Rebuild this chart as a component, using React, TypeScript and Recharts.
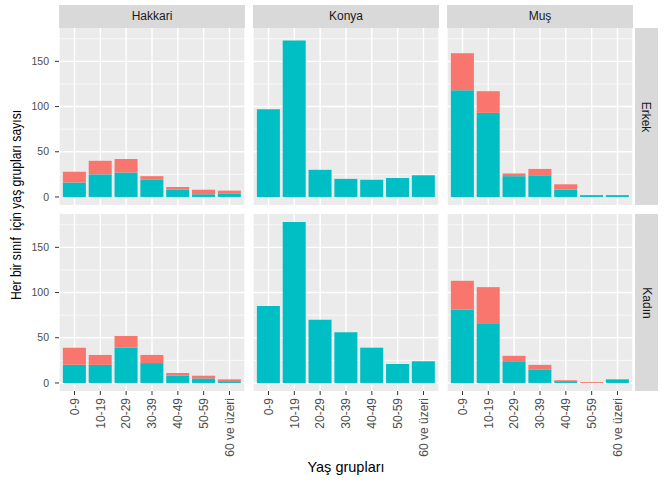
import React from 'react';
import { BarChart, Bar, XAxis, YAxis, CartesianGrid } from 'recharts';

const ageGroups = ['0-9', '10-19', '20-29', '30-39', '40-49', '50-59', '60 ve üzeri'];
const provinces = ['Hakkari', 'Konya', 'Muş'];
const sexes = ['Erkek', 'Kadın'];
const yTicks = [0, 50, 100, 150];
const yMinor = [25, 75, 125, 175];

// teal = lower part of each bar, red = part stacked on top
const hakkariErkekTeal = [16, 25, 27, 19, 8, 3, 4];
const hakkariErkekRed = [12, 15, 15, 4, 3, 5, 3];
const konyaErkekTeal = [97, 173, 30, 20, 19, 21, 24];
const konyaErkekRed = [0, 0, 0, 0, 0, 0, 0];
const musErkekTeal = [118, 93, 23, 24, 8, 2, 2];
const musErkekRed = [41, 24, 3, 7, 6, 0, 0];

const hakkariKadinTeal = [20, 20, 39, 22, 8, 5, 2];
const hakkariKadinRed = [19, 11, 13, 9, 3, 3, 2];
const konyaKadinTeal = [85, 178, 70, 56, 39, 21, 24];
const konyaKadinRed = [0, 0, 0, 0, 0, 0, 0];
const musKadinTeal = [81, 66, 24, 15, 2, 0, 4];
const musKadinRed = [32, 40, 6, 5, 1, 1, 0];

const TEAL = '#00BFC4';
const RED = '#F8766D';
const FONT = '"Liberation Sans", Arial, sans-serif';

const facets = [
  [
    [hakkariErkekTeal, hakkariErkekRed],
    [konyaErkekTeal, konyaErkekRed],
    [musErkekTeal, musErkekRed],
  ],
  [
    [hakkariKadinTeal, hakkariKadinRed],
    [konyaKadinTeal, konyaKadinRed],
    [musKadinTeal, musKadinRed],
  ],
];

const toRows = (teal: number[], red: number[]) =>
  ageGroups.map((g, i) => ({ grup: g, teal: teal[i], red: red[i] }));

const PANEL_W = 186;
const PANEL_H = 177;
const colX = [59, 253, 447];
const rowY = [28, 214];
const YAXIS_W = 59;
const XAXIS_H = 80;
const DOMAIN: [number, number] = [-8.9, 186.9];

const XTick = (props: any) => {
  const { x, y, payload } = props;
  return (
    <text
      x={x}
      y={y}
      transform={`rotate(-90, ${x}, ${y})`}
      textAnchor="end"
      dy="0.35em"
      fill="#4D4D4D"
      fontSize={12}
      fontFamily={FONT}
    >
      {payload.value}
    </text>
  );
};

const Panel = ({ row, col }: { row: number; col: number }) => {
  const [teal, red] = facets[row][col];
  const showY = col === 0;
  const showX = row === 1;
  const width = PANEL_W + (showY ? YAXIS_W : 0);
  const height = PANEL_H + (showX ? XAXIS_H : 0);
  return (
    <div
      style={{
        position: 'absolute',
        left: showY ? colX[col] - YAXIS_W : colX[col],
        top: rowY[row],
      }}
    >
      <BarChart
        width={width}
        height={height}
        data={toRows(teal, red)}
        margin={{ top: 0, right: 0, bottom: 0, left: 0 }}
        barCategoryGap="5%"
      >
        <CartesianGrid
          fill="#EBEBEB"
          stroke="#FFFFFF"
          strokeWidth={0.7}
          vertical={false}
          horizontalValues={yMinor}
        />
        <CartesianGrid
          stroke="#FFFFFF"
          strokeWidth={1.4}
          horizontalValues={yTicks}
        />
        <XAxis
          dataKey="grup"
          hide={!showX}
          height={XAXIS_H}
          padding={{ left: 2.6, right: 2.6 }}
          axisLine={false}
          tickLine={{ stroke: '#333333' }}
          tickSize={4}
          tickMargin={3}
          interval={0}
          tick={<XTick />}
        />
        <YAxis
          hide={!showY}
          width={YAXIS_W}
          domain={DOMAIN}
          ticks={yTicks}
          allowDataOverflow
          axisLine={false}
          tickLine={{ stroke: '#333333' }}
          tickSize={4}
          tickMargin={6}
          tick={{ fill: '#4D4D4D', fontSize: 10.5, fontFamily: FONT }}
        />
        <Bar dataKey="teal" stackId="s" fill={TEAL} isAnimationActive={false} />
        <Bar dataKey="red" stackId="s" fill={RED} isAnimationActive={false} />
      </BarChart>
    </div>
  );
};

export default function App() {
  return (
    <div
      style={{
        position: 'absolute',
        left: 0,
        top: 0,
        width: 665,
        height: 483,
        background: '#FFFFFF',
        fontFamily: FONT,
      }}
    >
      {provinces.map((p, c) => (
        <div
          key={p}
          style={{
            position: 'absolute',
            left: colX[c],
            top: 5,
            width: PANEL_W,
            height: 23,
            background: '#D9D9D9',
            color: '#1A1A1A',
            fontSize: 12,
            lineHeight: '23px',
            textAlign: 'center',
          }}
        >
          {p}
        </div>
      ))}
      {sexes.map((s, r) => (
        <div
          key={s}
          style={{
            position: 'absolute',
            left: 635,
            top: rowY[r],
            width: 23,
            height: PANEL_H,
            background: '#D9D9D9',
            color: '#1A1A1A',
            fontSize: 12,
            display: 'flex',
            alignItems: 'center',
            justifyContent: 'center',
          }}
        >
          <div style={{ transform: 'rotate(90deg)', whiteSpace: 'nowrap' }}>{s}</div>
        </div>
      ))}
      {sexes.map((s, r) =>
        provinces.map((p, c) => <Panel key={`${s}-${p}`} row={r} col={c} />)
      )}
      <div
        style={{
          position: 'absolute',
          left: 16,
          top: 205,
          transform: 'translate(-50%, -50%) rotate(-90deg) scaleX(0.84)',
          whiteSpace: 'pre',
          fontSize: 14.5,
          color: '#000000',
        }}
      >
        {'Her bir sınıf  için yaş grupları sayısı'}
      </div>
      <div
        style={{
          position: 'absolute',
          left: 346,
          top: 467,
          transform: 'translate(-50%, -50%)',
          whiteSpace: 'nowrap',
          fontSize: 14.5,
          color: '#000000',
        }}
      >
        Yaş grupları
      </div>
    </div>
  );
}
